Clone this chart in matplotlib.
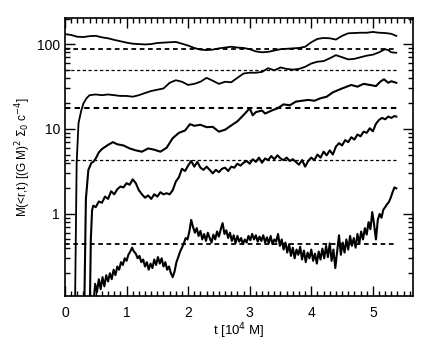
import matplotlib
matplotlib.use('Agg')
import matplotlib.pyplot as plt
from matplotlib.ticker import LogLocator, MultipleLocator, FixedLocator

plt.rcParams['font.family'] = ['Liberation Sans', 'DejaVu Sans']

# curve values (t in 10^4 M, mass)
t1 = [0.0, 0.1, 0.2, 0.3, 0.4, 0.5, 0.6, 0.7, 0.8, 0.9, 1.0, 1.1, 1.2, 1.3, 1.4, 1.5, 1.6, 1.7,
      1.8, 1.9, 2.0, 2.1, 2.2, 2.3, 2.4, 2.5, 2.6, 2.7, 2.8, 2.9, 3.0, 3.1, 3.2, 3.3, 3.4, 3.5,
      3.6, 3.7, 3.8, 3.9, 4.0, 4.1, 4.2, 4.3, 4.4, 4.5, 4.6, 4.7, 4.8, 4.9, 5.0, 5.1, 5.2, 5.3, 5.38]
m1 = [131, 128, 122, 121, 124, 125, 120, 117, 112, 108, 104, 101, 100, 99, 100, 103, 104, 105,
      106, 101, 96, 90, 86, 85, 86, 89, 91, 93, 91, 90, 87, 82, 80, 81, 84, 87,
      88, 89, 90, 93, 105, 115, 118, 117, 113, 125, 134, 135, 136, 136, 139, 136, 135, 132, 125]

t2 = [0.16, 0.19, 0.22, 0.26, 0.3, 0.35, 0.4, 0.5, 0.6, 0.7, 0.8, 0.9, 1.0, 1.1, 1.2, 1.3, 1.4,
      1.5, 1.6, 1.7, 1.8, 1.9, 2.0, 2.1, 2.2, 2.3, 2.4, 2.5, 2.6, 2.7, 2.8, 2.9, 3.0, 3.1, 3.2,
      3.3, 3.4, 3.5, 3.6, 3.7, 3.8, 3.9, 4.0, 4.1, 4.2, 4.3, 4.4, 4.5, 4.6, 4.7, 4.8, 4.9, 5.0,
      5.1, 5.2, 5.25, 5.3, 5.38]
m2 = [0.05, 4, 11.7, 16, 20, 23, 25, 25.5, 25, 25.5, 25, 24.5, 24.5, 24, 25, 26.5, 28,
      29, 30, 35, 37.5, 36, 33, 34, 36, 40, 37, 34, 36, 35.5, 40, 45, 46, 46, 47,
      52, 49, 53, 51, 50, 51, 54, 59, 62, 63, 68, 74, 70, 66, 67, 70, 73, 75,
      80, 87, 85, 80, 79]

t3 = [0.31, 0.34, 0.38, 0.43, 0.46, 0.5, 0.55, 0.6, 0.7, 0.78, 0.85, 0.95, 1.05, 1.15, 1.25,
      1.35, 1.45, 1.55, 1.65, 1.75, 1.85, 1.95, 2.03, 2.1, 2.2, 2.3, 2.4, 2.5, 2.6, 2.7, 2.8,
      2.9, 3.0, 3.05, 3.1, 3.2, 3.25, 3.35, 3.45, 3.55, 3.65, 3.75, 3.85, 3.95, 4.05, 4.15,
      4.25, 4.35, 4.45, 4.55, 4.65, 4.75, 4.85, 4.95, 5.05, 5.12, 5.18, 5.25, 5.3, 5.38]
m3 = [0.05, 1.5, 3.3, 4.0, 4.1, 4.5, 5.3, 5.8, 6.5, 7.0, 6.6, 6.4, 5.9, 5.6, 5.4,
      5.9, 5.7, 5.4, 6.0, 7.8, 9.0, 9.6, 11.4, 10.9, 11.2, 10.5, 10.6, 9.3, 9.8, 11, 12.3,
      14.6, 17.5, 14.5, 15.8, 16.5, 15.2, 16.4, 17.5, 19.5, 19, 21, 21.5, 22, 21.5, 23,
      24, 27, 29, 31, 33, 31.5, 34, 33, 32, 36, 38.5, 35, 36.5, 35]

t4 = [0.40, 0.42, 0.44, 0.46, 0.5, 0.55, 0.6, 0.65, 0.7, 0.75, 0.8, 0.85, 0.9, 0.95, 1.0,
      1.05, 1.1, 1.15, 1.2, 1.25, 1.3, 1.35, 1.4, 1.45, 1.5, 1.55, 1.6, 1.65, 1.7, 1.75, 1.8,
      1.85, 1.9, 1.95, 2.0, 2.05, 2.1, 2.15, 2.2, 2.25, 2.3, 2.35, 2.4, 2.45, 2.5, 2.55, 2.6,
      2.65, 2.7, 2.75, 2.8, 2.85, 2.9, 2.95, 3.0, 3.05, 3.1, 3.15, 3.2, 3.25, 3.3, 3.35, 3.4,
      3.45, 3.5, 3.55, 3.6, 3.65, 3.7, 3.75, 3.8, 3.85, 3.9, 3.95, 4.0, 4.05, 4.1, 4.15, 4.2,
      4.25, 4.3, 4.35, 4.4, 4.45, 4.5, 4.55, 4.6, 4.65, 4.7, 4.75, 4.8, 4.85, 4.9, 4.95, 5.0,
      5.05, 5.1, 5.15, 5.2, 5.25, 5.3, 5.35, 5.38]
m4 = [0.05, 0.5, 1.1, 1.25, 1.2, 1.4, 1.35, 1.6, 1.5, 1.85, 1.7, 1.95, 2.1, 2.05, 2.3,
      2.2, 2.55, 2.3, 1.9, 1.7, 1.55, 1.65, 1.5, 1.7, 1.6, 1.8, 1.7, 1.75, 1.7, 1.9, 2.4,
      2.7, 3.4, 3.2, 3.7, 4.2, 3.6, 4.1, 3.5, 3.3, 3.6, 3.3, 3.0, 3.3, 3.1, 3.4, 3.5,
      3.2, 3.6, 3.5, 3.9, 3.7, 4.0, 4.2, 3.9, 4.4, 4.1, 4.6, 4.0, 4.5, 4.3, 4.8, 4.4,
      4.9, 4.5, 4.3, 4.6, 4.2, 4.4, 4.1, 3.8, 4.3, 3.6, 4.2, 4.6, 4.3, 5.0, 4.6, 5.4,
      4.9, 5.6, 5.0, 6.2, 6.8, 6.4, 7.4, 7.0, 8.0, 7.5, 8.6, 8.2, 9.3, 9.0, 10.2, 9.4,
      11.5, 12.8, 13.5, 13.0, 14.0, 13.5, 14.2, 14.0]

t5 = [0.45, 0.47, 0.49, 0.52, 0.55, 0.58, 0.61, 0.64, 0.67, 0.70, 0.73, 0.76, 0.79, 0.82,
      0.85, 0.88, 0.91, 0.94, 0.97, 1.00, 1.03, 1.06, 1.09, 1.12, 1.15, 1.18, 1.21, 1.24,
      1.27, 1.30, 1.33, 1.36, 1.39, 1.42, 1.45, 1.48, 1.51, 1.54, 1.57, 1.60, 1.63, 1.66,
      1.69, 1.72, 1.75, 1.78, 1.81, 1.84, 1.87, 1.90, 1.93, 1.96, 1.99, 2.02, 2.05, 2.08,
      2.11, 2.14, 2.17, 2.20, 2.23, 2.26, 2.29, 2.32, 2.35, 2.38, 2.41, 2.44, 2.47, 2.50,
      2.53, 2.56, 2.59, 2.62, 2.65, 2.68, 2.71, 2.74, 2.77, 2.80, 2.83, 2.86, 2.89, 2.92,
      2.95, 2.98, 3.01, 3.04, 3.07, 3.10, 3.13, 3.16, 3.19, 3.22, 3.25, 3.28, 3.31, 3.34,
      3.37, 3.40, 3.43, 3.46, 3.49, 3.52, 3.55, 3.58, 3.61, 3.64, 3.67, 3.70, 3.73, 3.76,
      3.79, 3.82, 3.85, 3.88, 3.91, 3.94, 3.97, 4.00, 4.03, 4.06, 4.09, 4.12, 4.15, 4.18,
      4.21, 4.24, 4.27, 4.30, 4.33, 4.36, 4.39, 4.42, 4.45, 4.48, 4.51, 4.54, 4.57, 4.60,
      4.63, 4.66, 4.69, 4.72, 4.75, 4.78, 4.81, 4.84, 4.87, 4.90, 4.93, 4.96, 4.99, 5.02,
      5.05, 5.08, 5.11, 5.14, 5.17, 5.20, 5.23, 5.26, 5.29, 5.32, 5.35, 5.38]
m5 = [0.05, 0.10, 0.15, 0.12, 0.17, 0.13, 0.18, 0.14, 0.19, 0.16, 0.20, 0.17, 0.22, 0.19,
      0.24, 0.22, 0.27, 0.25, 0.30, 0.28, 0.33, 0.36, 0.40, 0.36, 0.34, 0.30, 0.32, 0.27,
      0.29, 0.24, 0.27, 0.22, 0.26, 0.23, 0.29, 0.25, 0.31, 0.26, 0.30, 0.24, 0.27, 0.22,
      0.24, 0.20, 0.18, 0.21, 0.27, 0.31, 0.36, 0.40, 0.45, 0.52, 0.50, 0.62, 0.85, 0.70,
      0.60, 0.68, 0.55, 0.63, 0.50, 0.58, 0.48, 0.60, 0.52, 0.46, 0.57, 0.50, 0.62, 0.54,
      0.66, 0.78, 0.58, 0.64, 0.52, 0.60, 0.48, 0.56, 0.45, 0.55, 0.47, 0.52, 0.44, 0.50,
      0.46, 0.55, 0.49, 0.58, 0.50, 0.56, 0.47, 0.54, 0.48, 0.56, 0.46, 0.53, 0.45, 0.55,
      0.44, 0.50, 0.47, 0.58, 0.42, 0.50, 0.38, 0.46, 0.35, 0.44, 0.32, 0.40, 0.30, 0.38,
      0.33, 0.41, 0.29, 0.37, 0.27, 0.35, 0.30, 0.38, 0.28, 0.34, 0.26, 0.36, 0.29, 0.39,
      0.30, 0.42, 0.31, 0.45, 0.28, 0.38, 0.23, 0.36, 0.56, 0.33, 0.46, 0.35, 0.50, 0.38,
      0.55, 0.42, 0.52, 0.40, 0.58, 0.45, 0.62, 0.50, 0.68, 0.57, 0.80, 0.66, 1.05, 0.75,
      0.50, 0.85, 1.00, 0.90, 1.12, 1.20, 1.30, 1.38, 1.55, 1.80, 2.05, 2.00]

# horizontal reference levels
levels = [88, 50, 17.8, 4.3, 0.44]
level_widths = [1.3, 0.9, 1.5, 0.9, 1.3]
t_end = 5.4

fig = plt.figure(figsize=(4.36, 3.49), dpi=100)
ax = fig.add_axes([0.149, 0.152, 0.798, 0.796])

for lev, lw in zip(levels, level_widths):
    ax.plot([0, t_end], [lev, lev], color='black', lw=lw, linestyle=(0, (2.6, 2.0)))

ax.plot(t1, m1, color='black', lw=1.3)
ax.plot(t2, m2, color='black', lw=1.3)
ax.plot(t3, m3, color='black', lw=1.5)
ax.plot(t4, m4, color='black', lw=1.5)
ax.plot(t5, m5, color='black', lw=1.5)

ax.set_yscale('log')
ax.set_xlim(0, 5.65)
ax.set_ylim(0.108, 202)

ax.xaxis.set_major_locator(MultipleLocator(1))
ax.xaxis.set_minor_locator(MultipleLocator(0.1))
ax.yaxis.set_major_locator(FixedLocator([1, 10, 100]))
ax.yaxis.set_minor_locator(LogLocator(base=10, subs=range(2, 10)))
ax.set_yticklabels(['1', '10', '100'])
ax.tick_params(which='both', direction='in', top=True, right=True, labelsize=10)
ax.tick_params(which='major', length=7, width=1)
ax.tick_params(which='minor', length=3.5, width=1)
ax.tick_params(axis='x', pad=7)
for s in ax.spines.values():
    s.set_linewidth(1.2)

ax.set_xlabel('t [10$^4$ M]', fontsize=9.5, labelpad=1)
ax.set_ylabel('M(<r,t) [(G M)$^2$ $\\Sigma_0$ c$^{-4}$]', fontsize=8.5, labelpad=3)

fig.savefig('out.png', dpi=100)
